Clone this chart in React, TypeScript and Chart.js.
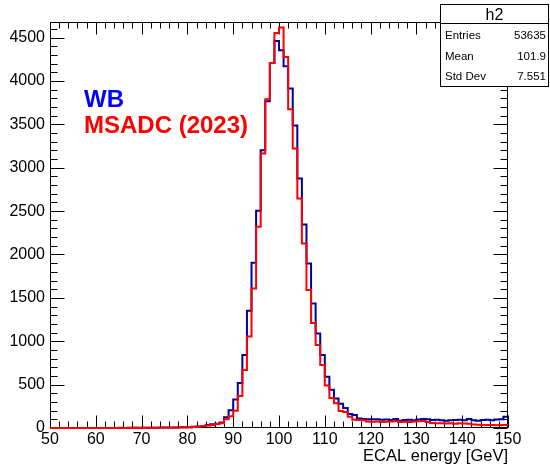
import React, { useEffect, useRef } from "react";
import { Chart, registerables } from "chart.js";

Chart.register(...registerables);

// ---- data ----
const binLowEdge = 50;
const binWidth = 1;
const xMin = 50;
const xMax = 150;
const yMin = 0;
const yMax = 4680;
const xTickValues = [50, 60, 70, 80, 90, 100, 110, 120, 130, 140, 150];
const yTickValues = [0, 500, 1000, 1500, 2000, 2500, 3000, 3500, 4000, 4500];
const xMinorStep = 2;
const yMinorStep = 100;

// bins 50..149 (1 GeV wide)
const wbCounts = [
  0, 0, 1, 0, 1, 0, 1, 1, 0, 1,
  1, 1, 0, 1, 1, 2, 1, 2, 2, 2,
  3, 3, 3, 4, 5, 5, 6, 7, 8, 10,
  10, 14, 18, 24, 35, 42, 50, 62, 125, 205,
  328, 520, 841, 1351, 1904, 2503, 3203, 3767, 4208, 4462,
  4355, 4170, 3913, 3487, 2877, 2346, 1897, 1436, 1090, 841,
  591, 440, 341, 280, 230, 160, 150, 110, 105, 100,
  100, 102, 95, 98, 92, 105, 85, 92, 95, 88,
  98, 104, 102, 92, 95, 88, 85, 90, 92, 95,
  88, 105, 90, 85, 92, 95, 90, 98, 100, 130,
];

const msadcCounts = [
  0, 0, 0, 1, 0, 0, 1, 0, 1, 0,
  1, 0, 1, 1, 0, 1, 1, 1, 2, 1,
  2, 2, 2, 2, 2, 3, 3, 4, 5, 6,
  8, 12, 15, 22, 30, 35, 45, 55, 100, 135,
  200, 369, 668, 1056, 1609, 2319, 3165, 3790, 4208, 4554,
  4616, 4277, 3675, 3222, 2646, 2128, 1590, 1210, 956, 726,
  490, 345, 285, 195, 185, 130, 95, 92, 90, 75,
  72, 74, 70, 72, 75, 80, 68, 72, 70, 75,
  78, 80, 70, 58, 55, 55, 52, 55, 50, 55,
  52, 50, 40, 38, 35, 36, 35, 32, 35, 35,
];

const legendLabels = ["WB", "MSADC (2023)"];
const legendColors = ["#0000ff", "#ff0000"];
const statsTitle = "h2";
const statsNames = ["Entries", "Mean", "Std Dev"];
const statsValues = ["53635", "101.9", "7.551"];
const xAxisTitle = "ECAL energy [GeV]";

const FONT = "'Liberation Sans', Arial, Helvetica, sans-serif";

function toSteps(counts: number[]) {
  const pts = counts.map((c, i) => ({ x: binLowEdge + i * binWidth, y: c }));
  pts.push({ x: binLowEdge + counts.length * binWidth, y: counts[counts.length - 1] });
  return pts;
}

const rootFramePlugin = {
  id: "rootFrame",
  beforeDatasetsDraw(chart: any) {
    const { ctx, chartArea } = chart;
    const xs = chart.scales.x;
    const ys = chart.scales.y;
    const L = Math.round(chartArea.left) + 0.5;
    const R = Math.round(chartArea.right) - 0.5;
    const T = Math.round(chartArea.top) + 0.5;
    const B = Math.round(chartArea.bottom) - 0.5;
    ctx.save();
    ctx.strokeStyle = "#000";
    ctx.lineWidth = 1;
    ctx.strokeRect(L, T, R - L, B - T);
    ctx.beginPath();
    // x ticks (bottom & top, pointing inward)
    for (let v = xMin; v <= xMax + 1e-9; v += xMinorStep) {
      const major = xTickValues.some((t) => Math.abs(t - v) < 1e-9);
      const len = major ? 12 : 6;
      const px = Math.round(xs.getPixelForValue(v)) + 0.5;
      ctx.moveTo(px, B);
      ctx.lineTo(px, B - len);
      ctx.moveTo(px, T);
      ctx.lineTo(px, T + len);
    }
    // y ticks (left & right, pointing inward)
    for (let v = yMin; v <= yMax + 1e-9; v += yMinorStep) {
      const major = yTickValues.some((t) => Math.abs(t - v) < 1e-9);
      const len = major ? 14 : 7;
      const py = Math.round(ys.getPixelForValue(v)) + 0.5;
      ctx.moveTo(L, py);
      ctx.lineTo(L + len, py);
      ctx.moveTo(R, py);
      ctx.lineTo(R - len, py);
    }
    ctx.stroke();
    ctx.restore();
  },
  afterDraw(chart: any) {
    const { ctx } = chart;
    ctx.save();
    // legend texts
    ctx.font = `bold 24px ${FONT}`;
    ctx.textAlign = "left";
    ctx.textBaseline = "alphabetic";
    ctx.fillStyle = legendColors[0];
    ctx.fillText(legendLabels[0], 84, 107);
    ctx.fillStyle = legendColors[1];
    ctx.fillText(legendLabels[1], 84, 133);

    // stats box
    const bx = 440.5, by = 4.5, bw = 108, bh = 82;
    ctx.fillStyle = "#fff";
    ctx.fillRect(bx, by, bw, bh);
    ctx.strokeStyle = "#000";
    ctx.lineWidth = 1;
    ctx.strokeRect(bx, by, bw, bh);
    ctx.beginPath();
    ctx.moveTo(bx, 23.5);
    ctx.lineTo(bx + bw, 23.5);
    ctx.stroke();
    ctx.fillStyle = "#000";
    ctx.font = `16px ${FONT}`;
    ctx.textAlign = "center";
    ctx.fillText(statsTitle, bx + bw / 2, 20);
    ctx.font = `11.5px ${FONT}`;
    const rowY = [39, 59.5, 80];
    statsNames.forEach((n, i) => {
      ctx.textAlign = "left";
      ctx.fillText(n, 445, rowY[i]);
      ctx.textAlign = "right";
      ctx.fillText(statsValues[i], 546, rowY[i]);
    });
    ctx.restore();
  },
};

export default function App() {
  const canvasRef = useRef<HTMLCanvasElement | null>(null);

  useEffect(() => {
    const canvas = canvasRef.current;
    if (!canvas) return;
    const chart = new Chart(canvas, {
      type: "line",
      data: {
        datasets: [
          {
            label: legendLabels[1],
            data: toSteps(msadcCounts),
            borderColor: "#ff0000",
            borderWidth: 2,
            pointRadius: 0,
            stepped: true,
            fill: false,
            clip: 4,
            order: 0,
          },
          {
            label: legendLabels[0],
            data: toSteps(wbCounts),
            borderColor: "#00009a",
            borderWidth: 2,
            pointRadius: 0,
            stepped: true,
            fill: false,
            clip: 4,
            order: 1,
          },
        ],
      },
      options: {
        responsive: false,
        animation: false,
        devicePixelRatio: 1,
        layout: { padding: { top: 22, right: 42, left: 0, bottom: 0 } },
        plugins: {
          legend: { display: false },
          tooltip: { enabled: false },
          title: { display: false },
        },
        scales: {
          x: {
            type: "linear",
            min: xMin,
            max: xMax,
            grid: { display: false, drawTicks: false },
            border: { display: false },
            afterBuildTicks: (scale: any) => {
              scale.ticks = xTickValues.map((v) => ({ value: v }));
            },
            afterFit: (scale: any) => {
              scale.height = 40;
            },
            ticks: {
              autoSkip: false,
              maxRotation: 0,
              padding: 2,
              color: "#000",
              font: { family: FONT, size: 16 },
              callback: (v: any) => String(v),
            },
            title: {
              display: true,
              text: xAxisTitle,
              align: "end",
              color: "#000",
              font: { family: FONT, size: 16.5 },
              padding: { top: 0, bottom: 1.5 },
            },
          },
          y: {
            type: "linear",
            min: yMin,
            max: yMax,
            grid: { display: false, drawTicks: false },
            border: { display: false },
            afterBuildTicks: (scale: any) => {
              scale.ticks = yTickValues.map((v) => ({ value: v }));
            },
            afterFit: (scale: any) => {
              scale.width = 50;
            },
            ticks: {
              autoSkip: false,
              padding: 5,
              color: "#000",
              font: { family: FONT, size: 16 },
              callback: (v: any) => String(v),
            },
          },
        },
      },
      plugins: [rootFramePlugin],
    });
    return () => chart.destroy();
  }, []);

  return (
    <div style={{ position: "fixed", left: 0, top: 0, width: 550, height: 468, background: "#fff" }}>
      <canvas ref={canvasRef} width={550} height={468} style={{ display: "block" }} />
    </div>
  );
}
